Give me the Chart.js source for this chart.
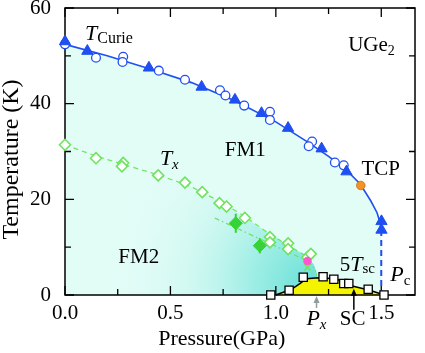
<!DOCTYPE html>
<html><head><meta charset="utf-8">
<script src="https://cdn.jsdelivr.net/npm/chart.js@4"></script>
<style>html,body{margin:0;padding:0;background:#fff}#wrap{width:425px;height:353px;position:relative}</style>
</head><body><div id="wrap"><canvas id="c"></canvas></div>
<script>
// ---- tick values ----
const xTickValues = [0, 0.5, 1.0, 1.5];
const yTickValues = [0, 20, 40, 60];
const xMinorTicks = [0, 0.25, 0.5, 0.75, 1.0, 1.25, 1.5];
const yMinorTicks = [0, 10, 20, 30, 40, 50, 60];

// ---- data (Pressure GPa, Temperature K) ----
const curieTriangles = [[0,53.0],[0.106,51.0],[0.398,47.5],[0.648,43.5],[0.806,40.8],[0.932,38.0],[1.058,34.9],[1.217,30.6],[1.335,25.8],[1.501,15.4],[1.501,13.6]];
const curieCircles = [[0,52.4],[0.147,49.6],[0.276,49.8],[0.273,48.7],[0.445,46.9],[0.569,45.0],[0.735,42.8],[0.761,41.7],[0.850,39.6],[0.972,38.3],[0.972,36.6],[1.172,32.1],[1.156,31.1],[1.280,27.7],[1.322,27.1]];
const curieLine = [[0,52.4],[0.2,50.0],[0.4,47.3],[0.6,44.4],[0.8,40.7],[1.0,36.2],[1.15,32.0],[1.25,29.0],[1.33,26.3],[1.40,23.2],[1.45,19.7],[1.48,17.2],[1.495,15.0],[1.5,13.6]];
const pcLine = [[1.5,13.6],[1.5,0]];
const tcpPoint = [[1.403,22.9]];
const txDiamonds = [[0,31.4],[0.147,28.6],[0.276,27.6],[0.270,26.9],[0.442,25.0],[0.569,23.5],[0.651,21.5],[0.733,19.2],[0.766,18.5],[0.853,16.1],[0.972,12.1],[0.972,11.0],[1.058,10.8],[1.058,9.6],[1.150,7.9],[1.166,8.6]];
const txLine = [[0,31.4],[0.15,29.0],[0.3,27.0],[0.45,25.0],[0.6,22.6],[0.75,19.2],[0.85,16.5],[0.95,13.4],[1.05,10.6],[1.15,8.0]];
const txLowerLine = [[0.71,16.1],[1.15,7.1]];
const txFilled = [[0.810,15.0],[0.924,10.3]];
const txFilledErr = [2.0, 1.6];
const pxPoint = [[1.150,7.1]];
const pxCross = [[1.150,5.8]];
const fm2Edge = [[1.15,7.1],[1.175,6.0],[1.19,4.8],[1.195,3.8]];
const fm2Region = [[0,31.4],[0.3,27.0],[0.6,22.6],[0.75,19.2],[0.95,13.4],[1.05,10.6],[1.15,8.0],[1.18,6.4],[1.195,4.5],[1.2,2.0],[1.2,0]];
const scDome = [[1.0,0],[1.074,1.2],[1.114,2.4],[1.145,3.4],[1.2,3.6],[1.288,3.4],[1.343,2.1],[1.445,1.0],[1.50,0.2],[1.51,0]];
const scSquares = [[0.976,0],[1.063,1.0],[1.130,3.7],[1.224,3.8],[1.275,3.3],[1.322,2.4],[1.346,2.4],[1.438,1.2],[1.513,0]];

const xy = a => a.map(p => ({x:p[0], y:p[1]}));

const BLUE = '#1f4ff0', GREEN = '#6fe35f', GREENF = '#36d236';
const SERIF = '"Liberation Serif", "Times New Roman", serif';

function fm2Gradient(ctx) {
  const chart = ctx.chart; const a = chart.chartArea;
  if (!a) return 'rgba(150,235,225,0.5)';
  const xs = chart.scales.x, ys = chart.scales.y;
  const cx = xs.getPixelForValue(1.17), cy = ys.getPixelForValue(2);
  const g = chart.ctx.createRadialGradient(cx, cy, 0, cx, cy, 200);
  g.addColorStop(0, 'rgba(95,222,212,0.95)');
  g.addColorStop(0.3, 'rgba(130,232,222,0.7)');
  g.addColorStop(0.65, 'rgba(185,244,236,0.35)');
  g.addColorStop(1, 'rgba(226,252,246,0)');
  return g;
}

const labels = [
  {parts:[['T','italic 22px',0],['Curie','16px',3]], p:0.095, t:53.4},
  {parts:[['UGe','21px',0],['2','14px',4]], p:1.343, t:50.95},
  {parts:[['FM1','21px',0]], p:0.758, t:29.0},
  {parts:[['TCP','21px',0]], p:1.406, t:25.1},
  {parts:[['FM2','21px',0]], p:0.253, t:6.6},
  {parts:[['T','italic 22px',0],['x','italic 15px',4]], p:0.450, t:27.2},
  {parts:[['5','21px',0],['T','italic 22px',0],['sc','15px',2]], p:1.303, t:5.1},
  {parts:[['P','italic 22px',0],['c','15px',4]], p:1.543, t:2.93},
  {parts:[['P','italic 22px',0],['x','italic 15px',4]], p:1.145, t:-6.28},
  {parts:[['SC','21px',0]], p:1.303, t:-6.28}
];
const arrows = [
  {p:1.193, t0:-2.7, t1:-0.2, color:'#8f9c9c'},
  {p:1.37, t0:-3.1, t1:1.3, color:'#000'}
];

const decor = {
  id:'decor',
  beforeDatasetsDraw(chart) {
    const c = chart.ctx, a = chart.chartArea, xs = chart.scales.x, ys = chart.scales.y;
    c.save();
    c.strokeStyle = GREENF; c.lineWidth = 2;
    txFilled.forEach((p,i) => {
      const px = xs.getPixelForValue(p[0]);
      c.beginPath();
      c.moveTo(px, ys.getPixelForValue(p[1]-txFilledErr[i]));
      c.lineTo(px, ys.getPixelForValue(p[1]+txFilledErr[i]));
      c.stroke();
    });
    c.strokeStyle = '#000'; c.lineWidth = 1.5;
    c.strokeRect(a.left, a.top, a.right-a.left, a.bottom-a.top);
    c.lineWidth = 1.3;
    xMinorTicks.forEach(v => {
      const px = xs.getPixelForValue(v);
      const len = xTickValues.includes(v) ? 9 : 6;
      c.beginPath(); c.moveTo(px, a.bottom); c.lineTo(px, a.bottom-len);
      c.moveTo(px, a.top); c.lineTo(px, a.top+len); c.stroke();
    });
    yMinorTicks.forEach(v => {
      const py = ys.getPixelForValue(v);
      const len = yTickValues.includes(v) ? 9 : 6;
      c.beginPath(); c.moveTo(a.left, py); c.lineTo(a.left+len, py);
      c.moveTo(a.right, py); c.lineTo(a.right-len, py); c.stroke();
    });
    c.restore();
  },
  afterDatasetsDraw(chart) {
    const c = chart.ctx, a = chart.chartArea, xs = chart.scales.x, ys = chart.scales.y;
    c.save();
    c.fillStyle = '#000'; c.textBaseline = 'alphabetic'; c.textAlign = 'left';
    labels.forEach(L => {
      let x = xs.getPixelForValue(L.p); const y = ys.getPixelForValue(L.t);
      L.parts.forEach(([s, f, dy]) => {
        c.font = f + ' ' + SERIF;
        c.fillText(s, x, y + dy);
        x += c.measureText(s).width;
      });
    });
    arrows.forEach(A => {
      const px = xs.getPixelForValue(A.p), y0 = ys.getPixelForValue(A.t0), y1 = ys.getPixelForValue(A.t1);
      c.strokeStyle = A.color; c.fillStyle = A.color; c.lineWidth = 1.5;
      c.beginPath(); c.moveTo(px, y0); c.lineTo(px, y1 + 5); c.stroke();
      c.beginPath(); c.moveTo(px, y1); c.lineTo(px-3, y1+7); c.lineTo(px+3, y1+7); c.closePath(); c.fill();
    });
    c.fillStyle = '#000';
    c.font = '22px ' + SERIF; c.textAlign = 'center';
    c.fillText('Pressure(GPa)', 221.7, a.bottom + 50);
    c.save();
    c.translate(18, (a.top + a.bottom)/2 + 8);
    c.rotate(-Math.PI/2);
    c.font = '24px ' + SERIF;
    c.fillText('Temperature (K)', 0, 0);
    c.restore();
    c.restore();
  }
};

new Chart(document.getElementById('c'), {
  type: 'line',
  data: { datasets: [
    {data: xy(curieLine), borderColor: BLUE, borderWidth: 1.6, pointRadius: 0, fill: 'origin', backgroundColor: 'rgb(226,252,246)', order: 10},
    {data: xy(fm2Region), borderWidth: 0, borderColor: 'rgba(0,0,0,0)', pointRadius: 0, fill: 'origin', backgroundColor: fm2Gradient, order: 9},
    {data: xy(scDome), borderColor: '#000', borderWidth: 1.5, pointRadius: 0, fill: 'origin', backgroundColor: 'rgb(244,244,0)', order: 8},
    {data: xy(pcLine), borderColor: BLUE, borderWidth: 2, borderDash: [6,4], pointRadius: 0, order: 7},
    {data: xy(txLine), borderColor: GREEN, borderWidth: 1.2, borderDash: [5,4], pointRadius: 0, order: 7},
    {data: xy(txLowerLine), borderColor: GREEN, borderWidth: 1.2, borderDash: [5,3,1.5,3], pointRadius: 0, order: 7},
    {data: xy(fm2Edge), borderColor: GREEN, borderWidth: 1.2, borderDash: [1.5,2.5], pointRadius: 0, tension: 0.4, order: 7},
    {data: xy(txDiamonds), showLine: false, pointStyle: 'rectRot', pointRadius: 5.5, pointBorderWidth: 1.6, pointBorderColor: GREEN, pointBackgroundColor: '#fff', order: 5},
    {data: xy(txFilled), showLine: false, pointStyle: 'rectRot', pointRadius: 6.5, pointBorderWidth: 1, pointBorderColor: GREENF, pointBackgroundColor: GREENF, order: 4},
    {data: xy(pxCross), showLine: false, pointStyle: 'crossRot', pointRadius: 4.5, pointBorderWidth: 1.3, pointBorderColor: GREEN, order: 4},
    {data: xy(pxPoint), showLine: false, pointStyle: 'circle', pointRadius: 4.3, pointBorderWidth: 0, pointBackgroundColor: '#ff55d0', order: 3},
    {data: xy(curieCircles), showLine: false, pointStyle: 'circle', pointRadius: 4.4, pointBorderWidth: 1.3, pointBorderColor: BLUE, pointBackgroundColor: '#fff', order: 3},
    {data: xy(curieTriangles), showLine: false, pointStyle: 'triangle', pointRadius: 6.5, pointBorderWidth: 1, pointBorderColor: BLUE, pointBackgroundColor: BLUE, order: 2},
    {data: xy(tcpPoint), showLine: false, pointStyle: 'circle', pointRadius: 4.3, pointBorderWidth: 0.8, pointBorderColor: '#c86a10', pointBackgroundColor: '#f39323', order: 1},
    {data: xy(scSquares), showLine: false, pointStyle: 'rect', pointRadius: 5.8, pointBorderWidth: 1.3, pointBorderColor: '#000', pointBackgroundColor: '#fff', order: 1}
  ].map(d => Object.assign({clip: false, tension: d.tension || 0}, d)) },
  options: {
    responsive: true, maintainAspectRatio: false, animation: false,
    layout: {padding: {top: 8, right: 10, left: 0, bottom: 0}},
    plugins: {legend: {display: false}, tooltip: {enabled: false}, filler: {drawTime: 'beforeDatasetsDraw'}},
    scales: {
      x: {type: 'linear', min: 0, max: 1.66,
        grid: {display: false}, border: {display: false},
        afterBuildTicks: s => { s.ticks = xTickValues.map(v => ({value: v})); },
        afterFit: s => { s.height = 58; s.paddingLeft = 0; s.paddingRight = 0; },
        ticks: {font: {family: SERIF, size: 21}, color: '#000', padding: -2, maxRotation: 0,
          callback: v => Number(v).toFixed(1)}},
      y: {type: 'linear', min: 0, max: 60,
        grid: {display: false}, border: {display: false},
        afterBuildTicks: s => { s.ticks = yTickValues.map(v => ({value: v})); },
        afterFit: s => { s.width = 65; s.paddingTop = 0; s.paddingBottom = 0; },
        ticks: {font: {family: SERIF, size: 21}, color: '#000', padding: 6,
          callback: v => String(v)}}
    }
  },
  plugins: [decor]
});
</script></body></html>
